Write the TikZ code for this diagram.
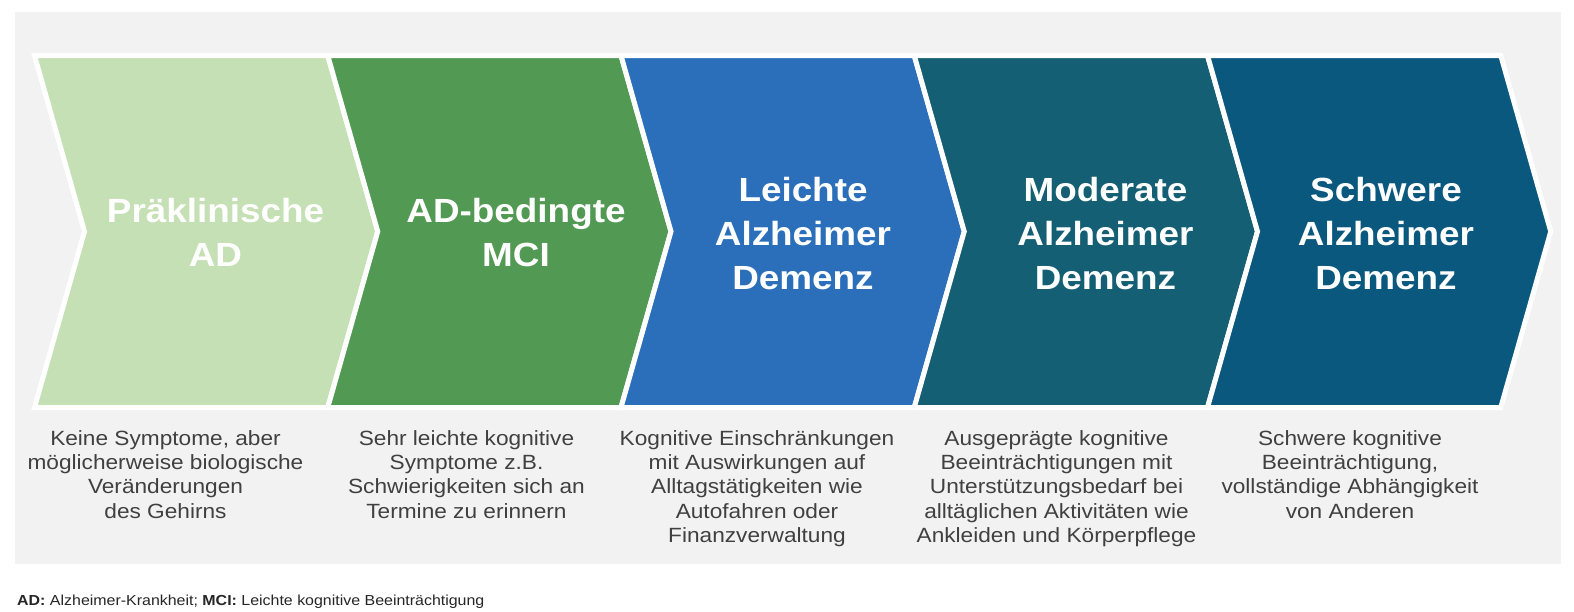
\documentclass[tikz,border=0pt]{standalone}
\usepackage{fontspec}
\setmainfont{Liberation Sans}[FakeStretch=1.1]
\begin{document}
\begin{tikzpicture}[x=1pt,y=-1pt,
  chev/.style={line width=5pt,draw=white,line join=miter},
  ttl/.style={text=white,align=center,inner sep=0pt,anchor=north,
    font=\fontsize{33.5}{44}\selectfont\bfseries},
  dsc/.style={text=descgray,align=center,inner sep=0pt,anchor=north,
    font=\fontsize{20.6}{24.3}\selectfont},
  foot/.style={text=footgray,inner sep=0pt,anchor=base west,
    font=\fontsize{14.5}{17}\selectfont}]
\definecolor{bggray}{HTML}{F2F2F2}
\definecolor{cA}{HTML}{C5E0B4}
\definecolor{cB}{HTML}{529A53}
\definecolor{cC}{HTML}{2B6FBA}
\definecolor{cD}{HTML}{145F73}
\definecolor{cE}{HTML}{0A587E}
\definecolor{descgray}{HTML}{404040}
\definecolor{footgray}{HTML}{262626}
\useasboundingbox (0,0) rectangle (1574,611);
\fill[white] (0,0) rectangle (1574,611);
\fill[bggray] (15,12) rectangle (1561,564);
\foreach \i/\c in {0/cA,1/cB,2/cC,3/cD,4/cE}{
  \pgfmathsetmacro{\L}{34.5+293.25*\i}
  \pgfmathsetmacro{\R}{\L+293.25}
  \filldraw[chev,fill=\c] (\L,55.5) -- (\R,55.5) -- (\R+50,231.5) -- (\R,407.5)
     -- (\L,407.5) -- (\L+50,231.5) -- cycle;
}
\node[ttl] (t1) at (215.5,191.2) {\strut Präklinische\\AD};
\node[ttl] (t2) at (516,191.2) {\strut AD-bedingte\\MCI};
\node[ttl] (t3) at (803,170.2) {\strut Leichte\\Alzheimer\\Demenz};
\node[ttl] (t4) at (1105.5,170.2) {\strut Moderate\\Alzheimer\\Demenz};
\node[ttl] (t5) at (1386,170.2) {\strut Schwere\\Alzheimer\\Demenz};
\node[dsc] (d1) at (165.5,428) {\strut Keine Symptome, aber\\möglicherweise biologische\\Veränderungen\\des Gehirns};
\node[dsc] (d2) at (466.5,428) {\strut Sehr leichte kognitive\\Symptome z.B.\\Schwierigkeiten sich an\\Termine zu erinnern};
\node[dsc] (d3) at (757,428) {\strut Kognitive Einschränkungen\\mit Auswirkungen auf\\Alltagstätigkeiten wie\\Autofahren oder\\Finanzverwaltung};
\node[dsc] (d4) at (1056.5,428) {\strut Ausgeprägte kognitive\\Beeinträchtigungen mit\\Unterstützungsbedarf bei\\alltäglichen Aktivitäten wie\\Ankleiden und Körperpflege};
\node[dsc] (d5) at (1350,428) {\strut Schwere kognitive\\Beeinträchtigung,\\vollständige Abhängigkeit\\von Anderen};
\node[foot] (fn) at (17,605) {\textbf{AD:} Alzheimer-Krankheit; \textbf{MCI:} Leichte kognitive Beeinträchtigung};
\end{tikzpicture}
\end{document}
